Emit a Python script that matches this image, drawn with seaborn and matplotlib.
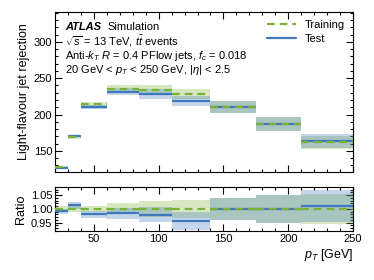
import numpy as np
import pandas as pd
import matplotlib
matplotlib.use("Agg")
import matplotlib.pyplot as plt
import seaborn as sns
from matplotlib.ticker import MultipleLocator, FormatStrFormatter
from matplotlib.lines import Line2D

# ---- data ----
bin_edges = [20, 30, 40, 60, 85, 110, 140, 175, 210, 250]
training_rej = [128.0, 168.5, 214.0, 235.3, 233.5, 228.4, 210.0, 186.7, 161.6]
test_rej = [126.9, 170.6, 209.8, 231.6, 228.4, 218.4, 210.0, 186.7, 163.4]
training_relunc = [0.010, 0.010, 0.012, 0.020, 0.028, 0.032, 0.040, 0.052, 0.055]
test_relunc = [0.010, 0.011, 0.013, 0.020, 0.028, 0.033, 0.040, 0.052, 0.058]
labels = ["Training", "Test"]

sns.set_theme(style="ticks")
plt.rcParams["font.family"] = ["Liberation Sans", "DejaVu Sans"]
plt.rcParams["mathtext.fontset"] = "custom"
plt.rcParams["mathtext.rm"] = "Liberation Sans"
plt.rcParams["mathtext.it"] = "Liberation Sans:italic"
plt.rcParams["mathtext.bf"] = "Liberation Sans:bold"
for k in ("text.color", "axes.labelcolor", "xtick.color", "ytick.color", "axes.edgecolor"):
    plt.rcParams[k] = "black"

green = "#7ab237"
blue = "#3f78bd"

edges = np.array(bin_edges, dtype=float)
lo, hi = edges[:-1], edges[1:]
width = hi - lo
tr = np.array(training_rej)
te = np.array(test_rej)
tr_u = tr * np.array(training_relunc)
te_u = te * np.array(test_relunc)

fig = plt.figure(figsize=(3.74, 2.8), dpi=100)
ax = fig.add_axes([0.147, 0.386, 0.797, 0.571])
axr = fig.add_axes([0.147, 0.175, 0.797, 0.156], sharex=ax)

# main panel bands
ax.bar(lo, 2 * tr_u, bottom=tr - tr_u, width=width, align="edge",
       color=green, alpha=0.3, linewidth=0, zorder=1)
ax.bar(lo, 2 * te_u, bottom=te - te_u, width=width, align="edge",
       color=blue, alpha=0.3, linewidth=0, zorder=2)
ax.hlines(te, lo, hi, color=blue, lw=1.6, zorder=3)
ax.hlines(tr, lo, hi, color=green, lw=1.6, linestyles=(0, (3.5, 2.2)), zorder=4)

# ratio panel
ratio = te / tr
ratio_u = ratio * np.array(test_relunc)
tru = np.array(training_relunc)
axr.bar(lo, 2 * tru, bottom=1 - tru, width=width, align="edge",
        color=green, alpha=0.3, linewidth=0, zorder=1)
axr.bar(lo, 2 * ratio_u, bottom=ratio - ratio_u, width=width, align="edge",
        color=blue, alpha=0.3, linewidth=0, zorder=2)
axr.hlines(ratio, lo, hi, color=blue, lw=1.6, zorder=3)
axr.hlines(np.ones_like(ratio), lo, hi, color=green, lw=1.6,
           linestyles=(0, (3.5, 2.2)), zorder=4)

for a in (ax, axr):
    a.tick_params(which="both", direction="in", top=True, right=True,
                  labelsize=8, pad=2, width=0.8, color="black")
    a.tick_params(which="major", length=5)
    a.tick_params(which="minor", length=2.5)
    for s in a.spines.values():
        s.set_linewidth(0.8)
        s.set_color("black")
    a.xaxis.set_major_locator(MultipleLocator(50))
    a.xaxis.set_minor_locator(MultipleLocator(10))

ax.set_xlim(20, 250)
ax.set_ylim(121, 341)
ax.yaxis.set_major_locator(MultipleLocator(50))
ax.yaxis.set_minor_locator(MultipleLocator(10))
ax.tick_params(labelbottom=False)
axr.set_ylim(0.92, 1.078)
axr.yaxis.set_major_locator(MultipleLocator(0.05))
axr.yaxis.set_minor_locator(MultipleLocator(0.01))
axr.yaxis.set_major_formatter(FormatStrFormatter("%.2f"))

ax.set_ylabel("Light-flavour jet rejection", fontsize=9, labelpad=3)
axr.set_ylabel("Ratio", fontsize=9, labelpad=3)
axr.set_xlabel("$p_T$ [GeV]", fontsize=9, loc="right", labelpad=2)

handles = [Line2D([], [], color=green, lw=1.6, ls=(0, (3.5, 2.2))),
           Line2D([], [], color=blue, lw=1.6)]
ax.legend(handles, labels, loc="upper right", frameon=False, fontsize=8,
          handlelength=2.6, borderaxespad=0.3, labelspacing=0.35)

tx = 0.033
ax.text(tx, 0.905, "ATLAS", transform=ax.transAxes, fontsize=8,
        fontweight="bold", fontstyle="italic", va="center")
ax.text(tx + 0.143, 0.905, "Simulation", transform=ax.transAxes, fontsize=8, va="center")
ax.text(tx, 0.815, r"$\sqrt{s}$ = 13 TeV, $t\bar{t}$ events", transform=ax.transAxes,
        fontsize=8, va="center")
ax.text(tx, 0.725, r"Anti-$k_{T}$ $R$ = 0.4 PFlow jets, $f_{c}$ = 0.018",
        transform=ax.transAxes, fontsize=8, va="center")
ax.text(tx, 0.635, r"20 GeV < $p_{T}$ < 250 GeV, $|\eta|$ < 2.5",
        transform=ax.transAxes, fontsize=8, va="center")

fig.savefig("out.png", dpi=100)
